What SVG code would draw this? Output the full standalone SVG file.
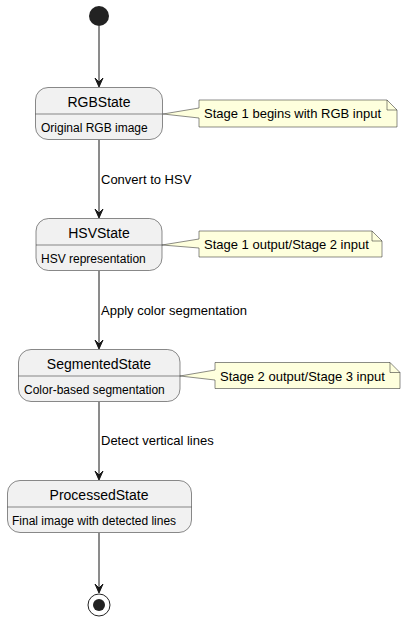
<svg xmlns="http://www.w3.org/2000/svg" width="406" height="621" viewBox="0 0 406 621">
<style>
.st{fill:#F1F1F1;stroke:#181818;stroke-width:0.5}
.nt{fill:#FEFFDD;stroke:#181818;stroke-width:0.5}
.ln{stroke:#181818;stroke-width:1;fill:none}
.dv{stroke:#181818;stroke-width:0.5;fill:none}
.ah{fill:#181818;stroke:#181818;stroke-width:1}
.t{font-family:"Liberation Sans",Arial,sans-serif;fill:#000}
.ti{font-size:14px}
.bd{font-size:12px}
.lb{font-size:13px}
</style>
<rect width="406" height="621" fill="#FFFFFF"/>
<g id="connectors">
<line class="ln" x1="99" y1="26" x2="99" y2="86"/>
<polygon class="ah" points="99,87 95,78 99,82 103,78"/>
<line class="ln" x1="99" y1="140" x2="99" y2="217"/>
<polygon class="ah" points="99,218 95,209 99,213 103,209"/>
<text class="t lb" x="101" y="184">Convert to HSV</text>
<line class="ln" x1="99" y1="271" x2="99" y2="348"/>
<polygon class="ah" points="99,349 95,340 99,344 103,340"/>
<text class="t lb" x="101" y="315">Apply color segmentation</text>
<line class="ln" x1="99" y1="402" x2="99" y2="479"/>
<polygon class="ah" points="99,480 95,471 99,475 103,471"/>
<text class="t lb" x="101" y="445">Detect vertical lines</text>
<line class="ln" x1="99" y1="533" x2="99" y2="592"/>
<polygon class="ah" points="99,593 95,584 99,588 103,584"/>
</g>
<g id="start">
<circle cx="99" cy="16" r="10" fill="#222222"/>
</g>
<g id="RGBState">
<rect class="st" x="35.5" y="87.5" width="127" height="52" rx="12.5"/>
<line class="dv" x1="35.5" y1="114" x2="162.5" y2="114"/>
<text class="t ti" x="99" y="107" text-anchor="middle">RGBState</text>
<text class="t bd" x="41" y="132">Original RGB image</text>
</g>
<g id="note1">
<polygon class="nt" points="163,114 199,108 199,100 387,100 397,110 397,127 199,127 199,118"/>
<path class="dv" d="M387,100 L387,110 L397,110"/>
<text class="t lb" x="204" y="118">Stage 1 begins with RGB input</text>
</g>
<g id="HSVState">
<rect class="st" x="36" y="218.5" width="126" height="52" rx="12.5"/>
<line class="dv" x1="36" y1="245" x2="162" y2="245"/>
<text class="t ti" x="99" y="238" text-anchor="middle">HSVState</text>
<text class="t bd" x="41" y="263">HSV representation</text>
</g>
<g id="note2">
<polygon class="nt" points="162,245 199,239 199,231 372,231 382,241 382,257 199,257 199,248"/>
<path class="dv" d="M372,231 L372,241 L382,241"/>
<text class="t lb" x="204" y="249">Stage 1 output/Stage 2 input</text>
</g>
<g id="SegmentedState">
<rect class="st" x="18.5" y="349.5" width="161.5" height="52" rx="12.5"/>
<line class="dv" x1="18.5" y1="376" x2="180" y2="376"/>
<text class="t ti" x="99" y="369" text-anchor="middle">SegmentedState</text>
<text class="t bd" x="24" y="394">Color-based segmentation</text>
</g>
<g id="note3">
<polygon class="nt" points="180,376 215,370 215,362.5 390,362.5 400,372.5 400,388.5 215,388.5 215,380"/>
<path class="dv" d="M390,362.5 L390,372.5 L400,372.5"/>
<text class="t lb" x="220" y="381">Stage 2 output/Stage 3 input</text>
</g>
<g id="ProcessedState">
<rect class="st" x="7.5" y="480.5" width="184" height="52" rx="12.5"/>
<line class="dv" x1="7.5" y1="507" x2="191.5" y2="507"/>
<text class="t ti" x="99" y="500" text-anchor="middle">ProcessedState</text>
<text class="t bd" x="12" y="525">Final image with detected lines</text>
</g>
<g id="end">
<circle cx="99" cy="605" r="11" fill="none" stroke="#222222" stroke-width="1"/>
<circle cx="99" cy="605" r="6" fill="#222222"/>
</g>
</svg>
